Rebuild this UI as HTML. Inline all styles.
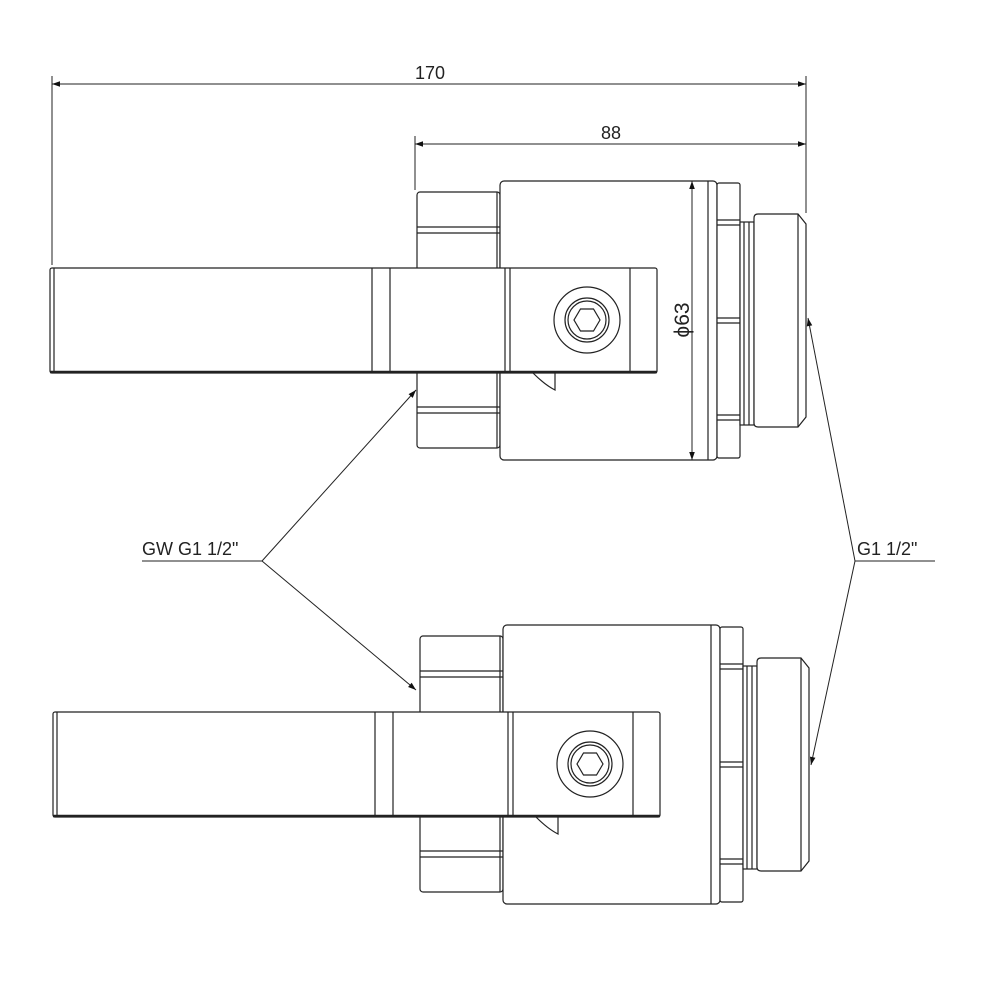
<!DOCTYPE html>
<html><head><meta charset="utf-8"><style>
html,body{margin:0;padding:0;background:#fff;}
svg{display:block;}
text{font-family:"Liberation Sans",sans-serif;fill:#222;}
</style></head><body>
<svg width="1000" height="1000" viewBox="0 0 1000 1000" xmlns="http://www.w3.org/2000/svg">
<defs>
<marker id="ar" viewBox="0 0 10 10" refX="10" refY="5" markerWidth="12" markerHeight="8" markerUnits="userSpaceOnUse" orient="auto-start-reverse">
<path d="M0,1.5 L10,5 L0,8.5 z" fill="#111"/></marker>
<g id="valve" fill="#fff" stroke="#222" stroke-width="1.2">
  <rect x="417" y="192" width="83" height="256" rx="3"/>
  <line x1="497" y1="192" x2="497" y2="448"/>
  <line x1="417" y1="227" x2="500" y2="227"/><line x1="417" y1="233" x2="500" y2="233"/>
  <line x1="417" y1="407" x2="500" y2="407"/><line x1="417" y1="413" x2="500" y2="413"/>
  <rect x="500" y="181" width="217" height="279" rx="4"/>
  <line x1="708" y1="181" x2="708" y2="460"/>
  <rect x="717" y="183" width="23" height="275" rx="2"/>
  <line x1="717" y1="220" x2="740" y2="220"/><line x1="717" y1="225" x2="740" y2="225"/>
  <line x1="717" y1="318" x2="740" y2="318"/><line x1="717" y1="323" x2="740" y2="323"/>
  <line x1="717" y1="415" x2="740" y2="415"/><line x1="717" y1="420" x2="740" y2="420"/>
  <rect x="740" y="222" width="14" height="203"/>
  <line x1="744" y1="222" x2="744" y2="425"/><line x1="749" y1="222" x2="749" y2="425"/>
  <path d="M754,218 Q754,214 758,214 L798,214 L806,224 L806,417 L798,427 L758,427 Q754,427 754,423 Z"/>
  <line x1="798" y1="214" x2="798" y2="427"/>
  <rect x="50" y="268" width="607" height="105" rx="2"/>
  <line x1="54" y1="268" x2="54" y2="373"/>
  <line x1="372" y1="268" x2="372" y2="373"/><line x1="390" y1="268" x2="390" y2="373"/>
  <line x1="505" y1="268" x2="505" y2="373"/><line x1="510" y1="268" x2="510" y2="373"/>
  <line x1="630" y1="268" x2="630" y2="373"/>
  <line x1="50" y1="372" x2="657" y2="372" stroke-width="2.5"/>
  <circle cx="587" cy="320" r="33"/>
  <circle cx="587" cy="320" r="22"/>
  <circle cx="587" cy="320" r="19"/>
  <polygon points="600,320 593.5,331 580.5,331 574,320 580.5,309 593.5,309"/>
  <path d="M533,373 Q545,385 555,390 L555,373" fill="none"/>
</g>
</defs>

<use href="#valve"/>
<use href="#valve" transform="translate(3,444)"/>

<g stroke="#222" stroke-width="1" fill="none">
  <line x1="52" y1="76" x2="52" y2="265"/>
  <line x1="806" y1="76" x2="806" y2="213"/>
  <line x1="52" y1="84" x2="806" y2="84" marker-start="url(#ar)" marker-end="url(#ar)"/>
  <line x1="415" y1="136" x2="415" y2="190"/>
  <line x1="806" y1="144" x2="415" y2="144" marker-start="url(#ar)" marker-end="url(#ar)"/>
  <line x1="692" y1="181" x2="692" y2="460" marker-start="url(#ar)" marker-end="url(#ar)"/>
  <line x1="142" y1="561" x2="262" y2="561"/>
  <line x1="262" y1="561" x2="416" y2="390" marker-end="url(#ar)"/>
  <line x1="262" y1="561" x2="416" y2="690" marker-end="url(#ar)"/>
  <line x1="855" y1="561" x2="935" y2="561"/>
  <line x1="855" y1="561" x2="808" y2="318" marker-end="url(#ar)"/>
  <line x1="855" y1="561" x2="811" y2="765" marker-end="url(#ar)"/>
</g>
<text x="430" y="79" font-size="18" text-anchor="middle">170</text>
<text x="611" y="139" font-size="18" text-anchor="middle">88</text>
<text transform="translate(689,320) rotate(-90)" font-size="21" text-anchor="middle">ϕ63</text>
<text x="142" y="555" font-size="18">GW G1 1/2"</text>
<text x="857" y="555" font-size="18">G1 1/2"</text>
</svg>
</body></html>
